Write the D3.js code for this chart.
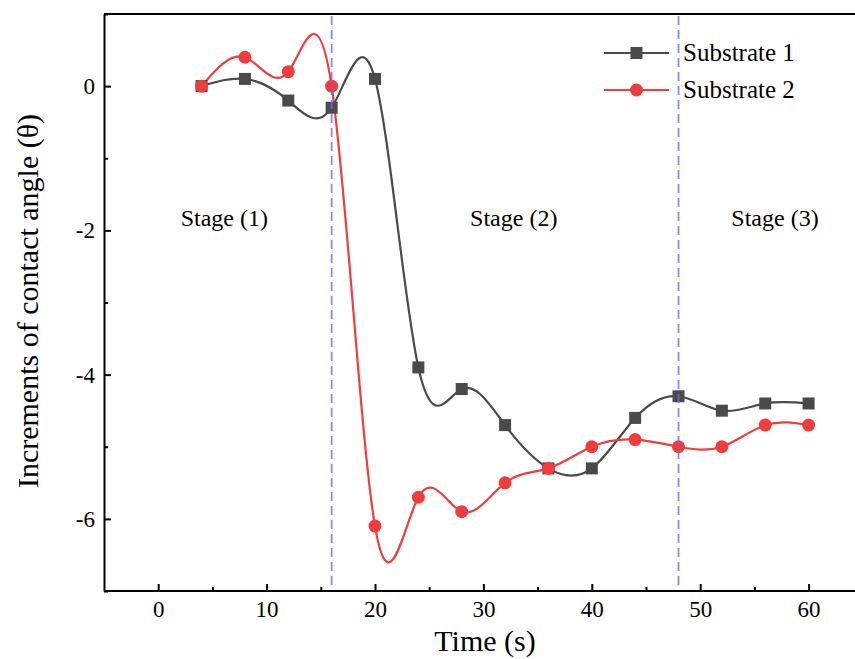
<!DOCTYPE html>
<html>
<head>
<meta charset="utf-8">
<script src="https://cdn.jsdelivr.net/npm/d3@7"></script>
<style>
  body { margin: 0; background: #fff; }
  text { font-family: "Liberation Serif", "Times New Roman", serif; fill: #000; }
</style>
</head>
<body>
<div id="chart"></div>
<script>
// data
var times = [4, 8, 12, 16, 20, 24, 28, 32, 36, 40, 44, 48, 52, 56, 60];
var substrate1 = [0, 0.1, -0.2, -0.3, 0.1, -3.9, -4.2, -4.7, -5.3, -5.3, -4.6, -4.3, -4.5, -4.4, -4.4];
var substrate2 = [0, 0.4, 0.2, 0, -6.1, -5.7, -5.9, -5.5, -5.3, -5.0, -4.9, -5.0, -5.0, -4.7, -4.7];
var xTicks = [0, 10, 20, 30, 40, 50, 60];
var xMinor = [5, 15, 25, 35, 45, 55];
var yTicks = [0, -2, -4, -6];
var yMinor = [1, -1, -3, -5, -7];
var stageLines = [16, 48];
var stages = [
  {label: "Stage (1)", t: 6.1},
  {label: "Stage (2)", t: 32.8},
  {label: "Stage (3)", t: 56.9}
];
var seriesNames = ["Substrate 1", "Substrate 2"];

var width = 855, height = 659;
var margin = {top: 14, left: 104, bottom: 591};

var svg = d3.select("#chart").append("svg")
    .attr("width", width)
    .attr("height", height);

// scales
var x = d3.scaleLinear().domain([-5, 65]).range([margin.left, margin.left + 70 * 10.84]);
var y = d3.scaleLinear().domain([-7, 1]).range([margin.bottom, margin.top]);

// plain hyphen for negatives, like the original
var fmt = function(d) { return String(d); };

// frame top line
svg.append("line")
    .attr("x1", margin.left).attr("x2", width)
    .attr("y1", margin.top).attr("y2", margin.top)
    .style("stroke", "#000").style("stroke-width", 2);

// x axis
var xAxis = svg.append("g")
    .attr("transform", "translate(0," + margin.bottom + ")")
    .call(d3.axisBottom(x).tickValues(xTicks).tickFormat(fmt).tickSizeInner(-7).tickSizeOuter(0).tickPadding(10));
svg.append("g")
    .attr("transform", "translate(0," + margin.bottom + ")")
    .call(d3.axisBottom(x).tickValues(xMinor).tickSizeInner(-4).tickSizeOuter(0).tickFormat(""))
    .select(".domain").remove();
xAxis.select(".domain").attr("d", "M" + margin.left + ",0H" + width);

// y axis
var yAxis = svg.append("g")
    .attr("transform", "translate(" + margin.left + ",0)")
    .call(d3.axisLeft(y).tickValues(yTicks).tickFormat(fmt).tickSizeInner(-7).tickSizeOuter(0).tickPadding(9));
svg.append("g")
    .attr("transform", "translate(" + margin.left + ",0)")
    .call(d3.axisLeft(y).tickValues(yMinor).tickSizeInner(-4).tickSizeOuter(0).tickFormat(""))
    .select(".domain").remove();

svg.selectAll("g").attr("font-family", null);
svg.selectAll(".domain").style("stroke-width", 2);
svg.selectAll(".tick line").style("stroke-width", 2);
svg.selectAll(".tick text")
    .style("font-family", "'Liberation Serif', serif")
    .style("font-size", "23px");

// axis titles
svg.append("text")
    .attr("x", 485).attr("y", 651)
    .attr("text-anchor", "middle")
    .style("font-size", "30px")
    .text("Time (s)");
svg.append("text")
    .attr("transform", "translate(38,301) rotate(-90)")
    .attr("text-anchor", "middle")
    .style("font-size", "30px")
    .text("Increments of contact angle (\u03b8)");

// stage labels
svg.selectAll(".stage")
    .data(stages)
  .enter().append("text")
    .attr("class", "stage")
    .attr("x", function(d) { return x(d.t); })
    .attr("y", 226)
    .attr("text-anchor", "middle")
    .style("font-size", "24px")
    .text(function(d) { return d.label; });

// curves
var line1 = d3.line().curve(d3.curveNatural)
    .x(function(d, i) { return x(times[i]); })
    .y(function(d) { return y(d); });

svg.append("path")
    .datum(substrate1)
    .attr("fill", "none")
    .style("stroke", "#4a4a4a")
    .style("stroke-width", 2.2)
    .attr("d", line1);
svg.append("path")
    .datum(substrate2)
    .attr("fill", "none")
    .style("stroke", "#f03c3c")
    .style("stroke-width", 2.2)
    .attr("d", line1);

// markers
svg.selectAll(".sq")
    .data(substrate1)
  .enter().append("rect")
    .attr("class", "sq")
    .attr("x", function(d, i) { return x(times[i]) - 6; })
    .attr("y", function(d) { return y(d) - 6; })
    .attr("width", 12).attr("height", 12)
    .style("fill", "#4a4a4a");
svg.selectAll(".dot")
    .data(substrate2)
  .enter().append("circle")
    .attr("class", "dot")
    .attr("cx", function(d, i) { return x(times[i]); })
    .attr("cy", function(d) { return y(d); })
    .attr("r", 6.5)
    .style("fill", "#f03c3c");

// stage boundaries
svg.selectAll(".stageLine")
    .data(stageLines)
  .enter().append("line")
    .attr("class", "stageLine")
    .attr("x1", function(d) { return x(d); })
    .attr("x2", function(d) { return x(d); })
    .attr("y1", margin.top + 2)
    .attr("y2", margin.bottom - 2)
    .style("stroke", "#6a6aff")
    .style("stroke-opacity", 0.8)
    .style("stroke-width", 1.8)
    .style("stroke-dasharray", "9,5");

// Handmade legend
var legend_y = [53, 90];
var colors = ["#4a4a4a", "#f03c3c"];
seriesNames.forEach(function(name, i) {
  svg.append("line").attr("x1", 604).attr("x2", 669).attr("y1", legend_y[i]).attr("y2", legend_y[i])
      .style("stroke", colors[i]).style("stroke-width", 2.2);
  if (i == 0) {
    svg.append("rect").attr("x", 630.5).attr("y", legend_y[i] - 6).attr("width", 12).attr("height", 12).style("fill", colors[i]);
  } else {
    svg.append("circle").attr("cx", 636.5).attr("cy", legend_y[i]).attr("r", 6.5).style("fill", colors[i]);
  }
  svg.append("text").attr("x", 683).attr("y", legend_y[i] + 8).text(name).style("font-size", "25px");
});
</script>
</body>
</html>
